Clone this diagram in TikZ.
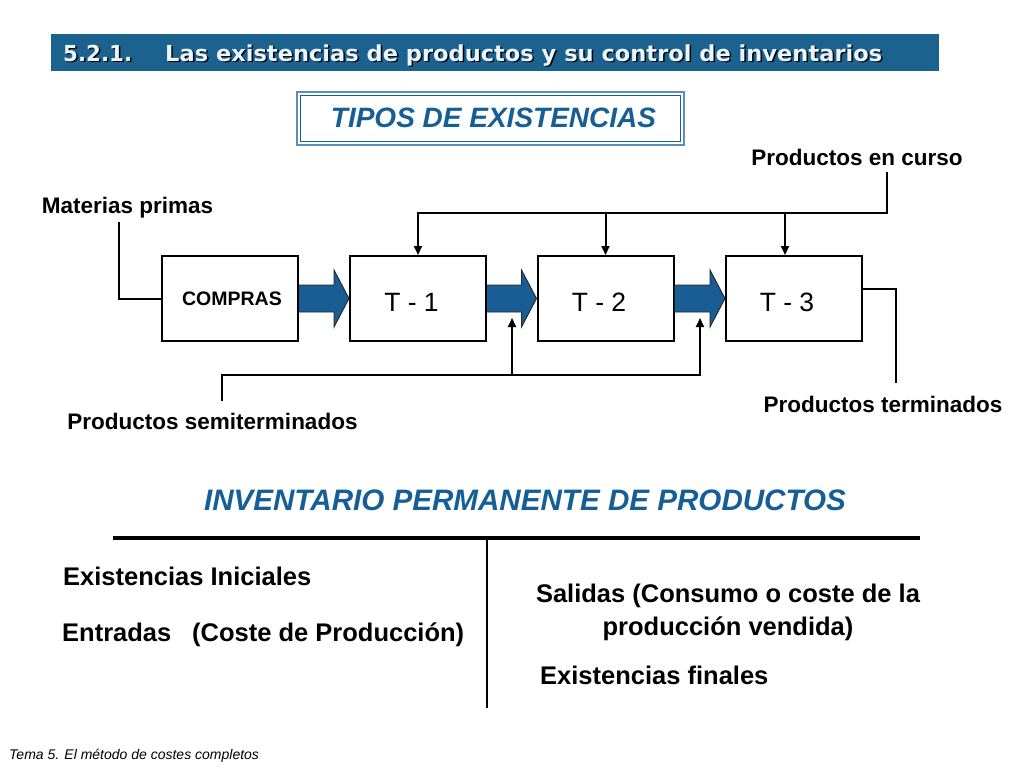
\documentclass[tikz,border=0pt]{standalone}
\usepackage{fontspec}
\usepackage{graphicx}
\setmainfont{Liberation Sans}
\newfontfamily\hdrfont{DejaVu Sans}
\usetikzlibrary{arrows.meta,calc}
\definecolor{hdrblue}{RGB}{27,98,143}
\definecolor{ttlblue}{RGB}{22,94,150}
\definecolor{arrblue}{RGB}{24,94,148}
\definecolor{hdrtxt}{RGB}{235,245,255}
\newcommand{\fs}[2]{\fontsize{#1}{#2}\selectfont}
\newcommand{\hdrA}{\resizebox{69pt}{\height}{5.2.1.}}
\newcommand{\hdrB}{\resizebox{717pt}{\height}{Las existencias de productos y su control de inventarios}}
\newcommand{\blockarr}[2]{%
  \filldraw[fill=arrblue, draw=black!85, line width=0.9pt]
    ($(#1.east)+(0,13.5)$) -- ($(#2.west)+(-15,13.5)$) -- ($(#2.west)+(-15,28.5)$)
    -- (#2.west) -- ($(#2.west)+(-15,-28.5)$) -- ($(#2.west)+(-15,-13.5)$)
    -- ($(#1.east)+(0,-13.5)$);}
\begin{document}
\begin{tikzpicture}[x=1pt,y=-1pt,
  box/.style={draw, line width=2pt, fill=white, minimum width=136pt, minimum height=85pt, inner sep=0pt},
  conn/.style={line width=2pt},
  arr/.style={conn, -{Triangle[length=9pt,width=8pt]}},
  lbl/.style={font=\fs{22.5}{27}\bfseries, inner sep=0pt},
  big/.style={font=\fs{25.5}{33}\bfseries, inner sep=0pt, anchor=base west},
  tlabel/.style={font=\fs{26.5}{30}, inner sep=0pt, anchor=base},
  hdr/.style={font=\hdrfont\fs{22}{26}\bfseries, inner sep=0pt, anchor=base west}]
\useasboundingbox (0,0) rectangle (1024,768);
\fill[white] (0,0) rectangle (1024,768);

% header bar
\fill[hdrblue] (51,34) rectangle (939,71);
\node[hdr, text=black] (h1s) at (64.5,63) {\hdrA};
\node[hdr, text=hdrtxt] (h1) at (63,61.5) {\hdrA};
\node[hdr, text=black] (h2s) at (166.5,63) {\hdrB};
\node[hdr, text=hdrtxt] (h2) at (165,61.5) {\hdrB};

% title box
\draw[ttlblue!70, line width=1.3pt] (297,92) rectangle (684,145);
\draw[ttlblue, line width=1.3pt] (300.5,95.5) rectangle (680.5,141.5);
\node[font=\fs{28}{32}\bfseries\itshape, text=ttlblue, inner sep=0pt] (tipos) at (493.5,118) {TIPOS DE EXISTENCIAS};

% process boxes
\node[box] (compras) at (230,298.5) {};
\node[font=\fs{19.5}{23}\bfseries, inner sep=0pt] (comprasT) at (232,299) {COMPRAS};
\node[box] (t1) at (418,298.5) {};
\node[tlabel] (t1T) at (411.5,311.5) {T - 1};
\node[box] (t2) at (605.5,298.5) {};
\node[tlabel] (t2T) at (599,311.5) {T - 2};
\node[box] (t3) at (794,298.5) {};
\node[tlabel] (t3T) at (787,311.5) {T - 3};

\blockarr{compras}{t1}
\blockarr{t1}{t2}
\blockarr{t2}{t3}

% labels
\node[lbl] (pec) at (857,157) {Productos en curso};
\node[lbl] (mp) at (127.5,208) {Materias primas};
\node[lbl] (ps) at (212.5,421) {Productos semiterminados};
\node[lbl] (pt) at (883,404) {Productos terminados};

% Productos en curso connectors
\coordinate (pecA) at (887,172);
\coordinate (bus) at (887,213);
\draw[arr] (pecA) -- (bus) -| (t1.north);
\draw[arr] (bus -| t2.north) -- (t2.north);
\draw[arr] (bus -| {$(t3.north)+(-9,0)$}) -- ($(t3.north)+(-9,0)$);

% Materias primas connector
\coordinate (mpA) at (119,222);
\draw[conn] (mpA) |- (compras.west);

% Productos semiterminados connectors
\coordinate (psA) at (222,401);
\coordinate (psB) at (700,375);
\coordinate (in2) at (512,318);
\coordinate (in3) at (700,318);
\draw[arr] (psA) |- (psB) -- (in3);
\draw[arr] (in2 |- psB) -- (in2);

% Productos terminados connector
\coordinate (ptA) at (896,383);
\draw[conn] ($(t3.east)+(0,-9.5)$) -| (ptA);

% inventario permanente
\node[font=\fs{29.6}{34}\bfseries\itshape, text=ttlblue, inner sep=0pt] (inv) at (525,500) {INVENTARIO PERMANENTE DE PRODUCTOS};
\coordinate (hl) at (113,538);
\coordinate (hr) at (920,538);
\coordinate (vt) at (487,538);
\coordinate (vb) at (487,708);
\draw[line width=4pt] (hl) -- (hr);
\draw[line width=2pt] (vt) -- (vb);

\node[big] (ei) at (63,585) {Existencias Iniciales};
\node[big] (ent) at (62,641) {Entradas};
\node[big] (cp) at (192,641) {(Coste de Producción)};
\node[big, anchor=base, align=center] (sal) at (728,635) {Salidas (Consumo o coste de la\\producción vendida)};
\node[big] (ef) at (540,684) {Existencias finales};

% footer
\node[font=\fs{14}{16}\itshape, anchor=base west, inner sep=0pt] (foot) at (9,759) {Tema 5. El método de costes completos};
\end{tikzpicture}
\end{document}
